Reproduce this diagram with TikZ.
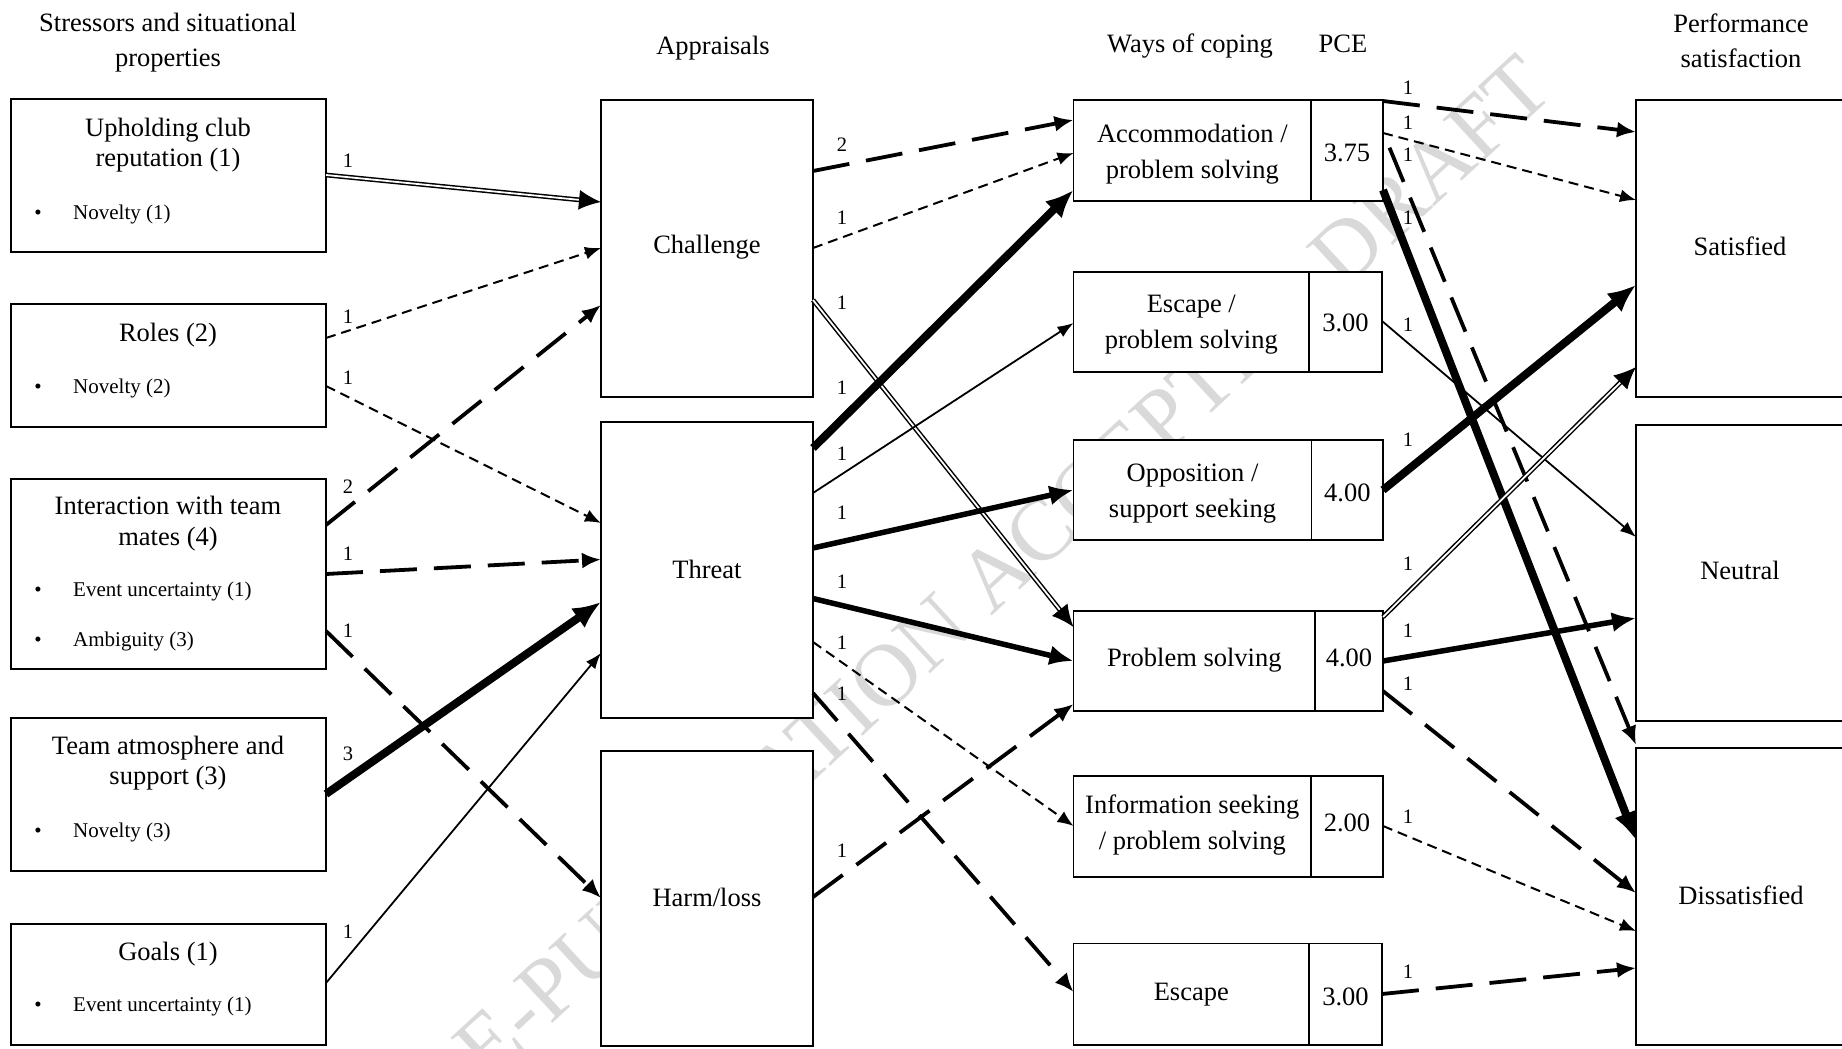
\documentclass[tikz,border=0pt]{standalone}
\usepackage{fontspec}
\setmainfont{Liberation Serif}
\usetikzlibrary{arrows.meta}
\newcommand{\fmain}{\fontsize{26.5pt}{36pt}\selectfont}
\newcommand{\fttl}{\fontsize{26.5pt}{30.5pt}\selectfont}
\newcommand{\fhdr}{\fontsize{26.5pt}{35pt}\selectfont}
\newcommand{\fitm}{\fontsize{21pt}{25pt}\selectfont}
\newcommand{\flab}{\fontsize{20.5pt}{24pt}\selectfont}
\newcommand{\fwm}{\fontsize{88.5pt}{88.5pt}\selectfont}
\begin{document}
\begin{tikzpicture}[x=1pt,y=-1pt,
  box/.style={draw,line width=1.4pt,fill=white,inner sep=0pt,outer sep=0pt,anchor=north west,rectangle,align=center,font=\fmain},
  txt/.style={font=\fmain,align=center,inner sep=0pt},
  one/.style={text height=18.5pt,text depth=5.8pt},
  lab/.style={font=\flab,inner sep=0pt},
  hdr/.style={font=\fhdr,align=center,inner sep=0pt},
  ttl/.style={font=\fttl,align=center,inner sep=0pt},
  itm/.style={font=\fitm,anchor=west,inner sep=0pt,text height=14.7pt,text depth=4.6pt},
  bul/.style={font=\fitm,inner sep=0pt,text height=14.7pt,text depth=4.6pt},
  lnthin/.style={line width=1.8pt,-{Latex[length=16pt,width=12pt]}},
  lndash/.style={line width=2pt,dash pattern=on 10pt off 6pt,-{Latex[length=16pt,width=13pt]}},
  lnTdash/.style={line width=3.8pt,dash pattern=on 37pt off 17pt,-{Latex[length=19pt,width=16pt]}},
  lnthick/.style={line width=5.5pt,-{Latex[length=24pt,width=20pt]}},
  lnvthick/.style={line width=8pt,-{Latex[length=28pt,width=24pt]}},
  lndbl/.style={double,line width=1.5pt,double distance=1.8pt,-{Latex[length=22pt,width=20pt]}},
]
\useasboundingbox (0,0) rectangle (1842,1049);
\clip (0,0) rectangle (1842,1049);
\fill[white] (0,0) rectangle (1842,1049);

% watermark
\node[font=\fwm,text=black!15,rotate=42.8,anchor=base,inner sep=0pt] (wm) at (983,625) {PRE-PUBLICATION ACCEPTED DRAFT};

% headers
\node[hdr] (h1) at (168,42.5) {Stressors and situational\\properties};
\node[hdr,one] (h2) at (713,48.5) {Appraisals};
\node[hdr,one] (h3) at (1190,46.5) {Ways of coping};
\node[hdr,one] (h4) at (1343,46.5) {PCE};
\node[hdr] (h5) at (1741,41) {Performance\\satisfaction};

% stressor boxes
\node[box,minimum width=315pt,minimum height=153pt] (s1) at (11,99) {};
\node[box,minimum width=315pt,minimum height=123pt] (s2) at (11,304) {};
\node[box,minimum width=315pt,minimum height=190pt] (s3) at (11,479) {};
\node[box,minimum width=315pt,minimum height=153pt] (s4) at (11,718) {};
\node[box,minimum width=315pt,minimum height=121pt] (s5) at (11,924) {};

\node[ttl] (t1) at (168,145) {Upholding club\\reputation (1)};
\node[bul] (b1) at (38,214) {\textbullet};
\node[itm] (i1) at (73,214) {Novelty (1)};
\node[ttl,one] (t2) at (168,335.5) {Roles (2)};
\node[bul] (b2) at (38,388) {\textbullet};
\node[itm] (i2) at (73,388) {Novelty (2)};
\node[ttl] (t3) at (168,523.5) {Interaction with team\\mates (4)};
\node[bul] (b3a) at (38,591) {\textbullet};
\node[itm] (i3a) at (73,591) {Event uncertainty (1)};
\node[bul] (b3b) at (38,641) {\textbullet};
\node[itm] (i3b) at (73,641) {Ambiguity (3)};
\node[ttl] (t4) at (168,763) {Team atmosphere and\\support (3)};
\node[bul] (b4) at (38,832) {\textbullet};
\node[itm] (i4) at (73,832) {Novelty (3)};
\node[ttl,one] (t5) at (168,954.5) {Goals (1)};
\node[bul] (b5) at (38,1006) {\textbullet};
\node[itm] (i5) at (73,1006) {Event uncertainty (1)};

% appraisal boxes
\node[box,minimum width=212pt,minimum height=297pt] (a1) at (601,100) {};
\node[box,minimum width=212pt,minimum height=296pt] (a2) at (601,422) {};
\node[box,minimum width=212pt,minimum height=295pt] (a3) at (601,751) {};
\node[txt] (a1t) at (707,247.5) {Challenge};
\node[txt] (a2t) at (707,569) {Threat};
\node[txt] (a3t) at (707,897.5) {Harm/loss};

% coping boxes
\node[box,minimum width=237.5pt,minimum height=101pt] (c1) at (1073.5,100) {};
\node[box,minimum width=72pt,minimum height=101pt] (v1) at (1311,100) {};
\node[box,minimum width=235.5pt,minimum height=100pt] (c2) at (1073.5,272) {};
\node[box,minimum width=73pt,minimum height=100pt] (v2) at (1309,272) {};
\node[box,minimum width=238pt,minimum height=100pt] (c3) at (1073.5,440) {};
\node[box,minimum width=71.5pt,minimum height=100pt] (v3) at (1311.5,440) {};
\node[box,minimum width=241.5pt,minimum height=100pt] (c4) at (1073.5,611) {};
\node[box,minimum width=68pt,minimum height=100pt] (v4) at (1315,611) {};
\node[box,minimum width=237.5pt,minimum height=101pt] (c5) at (1073.5,776) {};
\node[box,minimum width=72pt,minimum height=101pt] (v5) at (1311,776) {};
\node[box,minimum width=235.5pt,minimum height=101.5pt] (c6) at (1073.5,943.5) {};
\node[box,minimum width=73pt,minimum height=101.5pt] (v6) at (1309,943.5) {};

\node[txt] (c1t) at (1192.3,154) {Accommodation /\\problem solving};
\node[txt] (v1t) at (1347,152.8) {3.75};
\node[txt] (c2t) at (1191.3,324.3) {Escape /\\problem solving};
\node[txt] (v2t) at (1345.5,323) {3.00};
\node[txt] (c3t) at (1192.5,493.5) {Opposition /\\support seeking};
\node[txt] (v3t) at (1347.3,492.5) {4.00};
\node[txt] (c4t) at (1194.3,660.5) {Problem solving};
\node[txt] (v4t) at (1349,657.5) {4.00};
\node[txt] (c5t) at (1192.3,825.5) {Information seeking\\/ problem solving};
\node[txt] (v5t) at (1347,823) {2.00};
\node[txt] (c6t) at (1191.3,995) {Escape};
\node[txt] (v6t) at (1345.5,997) {3.00};

% performance boxes
\node[box,minimum width=210pt,minimum height=297pt] (p1) at (1636,100) {};
\node[box,minimum width=210pt,minimum height=296pt] (p2) at (1636,425) {};
\node[box,minimum width=210pt,minimum height=297pt] (p3) at (1636,748) {};
\node[txt] (p1t) at (1740,246.5) {Satisfied};
\node[txt] (p2t) at (1740,570.5) {Neutral};
\node[txt] (p3t) at (1741,895.5) {Dissatisfied};

% connectors: stressors -> appraisals
\draw[lndbl] (s1.east |- 0,175) -- (a1.west |- 0,202);
\draw[lndash] (s2.east |- 0,338) -- (a1.west |- 0,248);
\draw[lndash] (s2.east |- 0,386) -- (a2.west |- 0,523);
\draw[lnTdash] (s3.east |- 0,525) -- (a1.west |- 0,305);
\draw[lnTdash] (s3.east |- 0,574) -- (a2.west |- 0,559.5);
\draw[lnTdash] (s3.east |- 0,631) -- (a3.west |- 0,898);
\draw[lnvthick] (s4.east |- 0,794) -- (a2.west |- 0,602);
\draw[lnthin] (s5.east |- 0,983) -- (a2.west |- 0,653);

% appraisals -> coping
\draw[lnTdash] (a1.east |- 0,171) -- (c1.west |- 0,120);
\draw[lndash] (a1.east |- 0,248) -- (c1.west |- 0,153);
\draw[lndbl] (a1.east |- 0,300) -- (c4.west |- 0,627);
\draw[lnvthick] (a2.east |- 0,448) -- (c1.west |- 0,190);
\draw[lnthin] (a2.east |- 0,493) -- (c2.west |- 0,323);
\draw[lnthick] (a2.east |- 0,548) -- (c3.west |- 0,490);
\draw[lnthick] (a2.east |- 0,598.5) -- (c4.west |- 0,661);
\draw[lndash] (a2.east |- 0,642) -- (c5.west |- 0,826);
\draw[lnTdash] (a2.east |- 0,693) -- (c6.west |- 0,992);
\draw[lnTdash] (a3.east |- 0,897) -- (c4.west |- 0,704);

% coping -> performance
\draw[lnTdash] (v1.east |- 0,101) -- (p1.west |- 0,132);
\draw[lndash] (v1.east |- 0,133) -- (p1.west |- 0,200);
\draw[lnTdash,dash phase=37pt] (v1.east |- 0,132) -- (p3.west |- 0,745);
\draw[lnvthick] (v1.east |- 0,190) -- (p3.west |- 0,840);
\draw[lnthin] (v2.east |- 0,321) -- (p2.west |- 0,537);
\draw[lnvthick] (v3.east |- 0,490) -- (p1.west |- 0,285);
\draw[lndbl] (v4.east |- 0,617) -- (p1.west |- 0,367);
\draw[lnthick] (v4.east |- 0,661) -- (p2.west |- 0,618);
\draw[lnTdash] (v4.east |- 0,691) -- (p3.west |- 0,893);
\draw[lndash] (v5.east |- 0,826) -- (p3.west |- 0,931);
\draw[lnTdash] (v6.east |- 0,994) -- (p3.west |- 0,968);

% labels
\node[lab] (l1) at (348,161) {1};
\node[lab] (l2) at (348,317) {1};
\node[lab] (l3) at (348,378) {1};
\node[lab] (l4) at (348,487) {2};
\node[lab] (l5) at (348,554) {1};
\node[lab] (l6) at (348,631) {1};
\node[lab] (l7) at (348,754) {3};
\node[lab] (l8) at (348,932) {1};

\node[lab] (m1) at (842,145) {2};
\node[lab] (m2) at (842,218) {1};
\node[lab] (m3) at (842,303) {1};
\node[lab] (m4) at (842,388) {1};
\node[lab] (m5) at (842,454) {1};
\node[lab] (m6) at (842,513) {1};
\node[lab] (m7) at (842,582) {1};
\node[lab] (m8) at (842,643) {1};
\node[lab] (m9) at (842,694) {1};
\node[lab] (m10) at (842,851) {1};

\node[lab] (n1) at (1408,88) {1};
\node[lab] (n2) at (1408,123) {1};
\node[lab] (n3) at (1408,155) {1};
\node[lab] (n4) at (1408,218) {1};
\node[lab] (n5) at (1408,325) {1};
\node[lab] (n6) at (1408,440) {1};
\node[lab] (n7) at (1408,564) {1};
\node[lab] (n8) at (1408,631) {1};
\node[lab] (n9) at (1408,684) {1};
\node[lab] (n10) at (1408,817) {1};
\node[lab] (n11) at (1408,972) {1};
\end{tikzpicture}
\end{document}
